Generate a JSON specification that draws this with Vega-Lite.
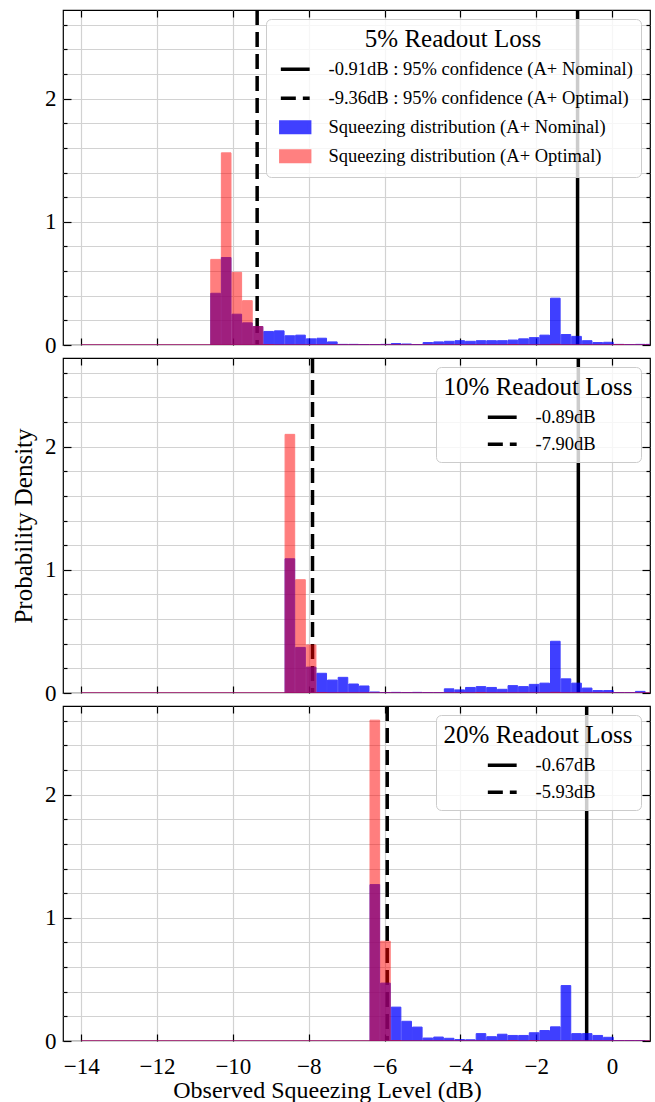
{
  "$schema": "https://vega.github.io/schema/vega-lite/v6.json",
  "background": "white",
  "padding": {"left": 10, "top": 8, "right": 5, "bottom": 3},
  "config": {
    "font": "Liberation Serif",
    "view": {"stroke": "black", "strokeWidth": 1.2},
    "concat": {"spacing": -8},
    "axis": {
      "domain": false,
      "labelFont": "Liberation Serif",
      "titleFont": "Liberation Serif",
      "labelFontSize": 23,
      "titleFontSize": 24,
      "titleFontWeight": "normal",
      "labelColor": "black",
      "titleColor": "black",
      "gridColor": "#d2d2d2",
      "gridWidth": 1.2,
      "tickColor": "black",
      "tickWidth": 1.2
    },
    "legend": {
      "titleFont": "Liberation Serif",
      "labelFont": "Liberation Serif",
      "titleFontSize": 25,
      "titleFontWeight": "normal",
      "titleColor": "black",
      "titleAnchor": "middle",
      "titleLimit": 400,
      "labelFontSize": 18.5,
      "labelColor": "black",
      "labelLimit": 500,
      "fillColor": "rgba(255,255,255,0.8)",
      "strokeColor": "#cccccc",
      "cornerRadius": 5,
      "padding": 8,
      "rowPadding": 8,
      "titlePadding": 8,
      "symbolSize": 196,
      "symbolOffset": 12,
      "labelOffset": 24,
      "orient": "top-right",
      "offset": 9
    }
  },
  "datasets": {
    "lines": [
      {"p": 1, "label": "-0.91dB : 95% confidence (A+ Nominal)", "x": -0.91, "style": "solid"},
      {"p": 1, "label": "-9.36dB : 95% confidence (A+ Optimal)", "x": -9.36, "style": "dashed"},
      {"p": 2, "label": "-0.89dB", "x": -0.89, "style": "solid"},
      {"p": 2, "label": "-7.90dB", "x": -7.90, "style": "dashed"},
      {"p": 3, "label": "-0.67dB", "x": -0.67, "style": "solid"},
      {"p": 3, "label": "-5.93dB", "x": -5.93, "style": "dashed"}
    ],
    "span": [{"lo": -14.0, "hi": 1.15}],
    "bars": [
      {"p": 1, "s": "nom", "x0": -10.61, "x1": -10.33, "d": 0.42},
      {"p": 1, "s": "nom", "x0": -10.33, "x1": -10.05, "d": 0.71},
      {"p": 1, "s": "nom", "x0": -10.05, "x1": -9.77, "d": 0.25},
      {"p": 1, "s": "nom", "x0": -9.77, "x1": -9.49, "d": 0.18},
      {"p": 1, "s": "nom", "x0": -9.49, "x1": -9.21, "d": 0.15},
      {"p": 1, "s": "nom", "x0": -9.21, "x1": -8.93, "d": 0.11},
      {"p": 1, "s": "nom", "x0": -8.93, "x1": -8.65, "d": 0.115},
      {"p": 1, "s": "nom", "x0": -8.65, "x1": -8.37, "d": 0.075},
      {"p": 1, "s": "nom", "x0": -8.37, "x1": -8.09, "d": 0.08},
      {"p": 1, "s": "nom", "x0": -8.09, "x1": -7.81, "d": 0.05},
      {"p": 1, "s": "nom", "x0": -7.81, "x1": -7.53, "d": 0.055},
      {"p": 1, "s": "nom", "x0": -7.53, "x1": -7.25, "d": 0.025},
      {"p": 1, "s": "nom", "x0": -7.25, "x1": -6.97, "d": 0.005},
      {"p": 1, "s": "nom", "x0": -6.97, "x1": -6.69, "d": 0.005},
      {"p": 1, "s": "nom", "x0": -6.69, "x1": -6.41, "d": 0.004},
      {"p": 1, "s": "nom", "x0": -6.41, "x1": -6.13, "d": 0.004},
      {"p": 1, "s": "nom", "x0": -6.13, "x1": -5.85, "d": 0.005},
      {"p": 1, "s": "nom", "x0": -5.85, "x1": -5.57, "d": 0.012},
      {"p": 1, "s": "nom", "x0": -5.57, "x1": -5.29, "d": 0.008},
      {"p": 1, "s": "nom", "x0": -5.29, "x1": -5.01, "d": 0.004},
      {"p": 1, "s": "nom", "x0": -5.01, "x1": -4.73, "d": 0.02},
      {"p": 1, "s": "nom", "x0": -4.73, "x1": -4.45, "d": 0.025},
      {"p": 1, "s": "nom", "x0": -4.45, "x1": -4.17, "d": 0.03},
      {"p": 1, "s": "nom", "x0": -4.17, "x1": -3.89, "d": 0.035},
      {"p": 1, "s": "nom", "x0": -3.89, "x1": -3.61, "d": 0.03},
      {"p": 1, "s": "nom", "x0": -3.61, "x1": -3.33, "d": 0.035},
      {"p": 1, "s": "nom", "x0": -3.33, "x1": -3.05, "d": 0.035},
      {"p": 1, "s": "nom", "x0": -3.05, "x1": -2.77, "d": 0.035},
      {"p": 1, "s": "nom", "x0": -2.77, "x1": -2.49, "d": 0.04},
      {"p": 1, "s": "nom", "x0": -2.49, "x1": -2.21, "d": 0.05},
      {"p": 1, "s": "nom", "x0": -2.21, "x1": -1.93, "d": 0.06},
      {"p": 1, "s": "nom", "x0": -1.93, "x1": -1.65, "d": 0.08},
      {"p": 1, "s": "nom", "x0": -1.65, "x1": -1.37, "d": 0.38},
      {"p": 1, "s": "nom", "x0": -1.37, "x1": -1.09, "d": 0.085},
      {"p": 1, "s": "nom", "x0": -1.09, "x1": -0.81, "d": 0.07},
      {"p": 1, "s": "nom", "x0": -0.81, "x1": -0.53, "d": 0.035},
      {"p": 1, "s": "nom", "x0": -0.53, "x1": -0.25, "d": 0.02},
      {"p": 1, "s": "nom", "x0": -0.25, "x1": 0.03, "d": 0.022},
      {"p": 1, "s": "nom", "x0": 0.03, "x1": 0.31, "d": 0.005},
      {"p": 1, "s": "nom", "x0": 0.31, "x1": 0.59, "d": 0.003},
      {"p": 1, "s": "nom", "x0": 0.59, "x1": 0.87, "d": 0.005},
      {"p": 1, "s": "nom", "x0": 0.87, "x1": 1.15, "d": 0.005},
      {"p": 1, "s": "opt", "x0": -10.61, "x1": -10.33, "d": 0.695},
      {"p": 1, "s": "opt", "x0": -10.33, "x1": -10.05, "d": 1.56},
      {"p": 1, "s": "opt", "x0": -10.05, "x1": -9.77, "d": 0.59},
      {"p": 1, "s": "opt", "x0": -9.77, "x1": -9.49, "d": 0.36},
      {"p": 1, "s": "opt", "x0": -9.49, "x1": -9.21, "d": 0.15},
      {"p": 1, "s": "opt", "x0": -9.21, "x1": -8.93, "d": 0.004},
      {"p": 1, "s": "opt", "x0": -2.77, "x1": -2.49, "d": 0.004},
      {"p": 1, "s": "opt", "x0": -1.65, "x1": -1.37, "d": 0.006},
      {"p": 1, "s": "opt", "x0": 0.03, "x1": 0.31, "d": 0.004},
      {"p": 2, "s": "nom", "x0": -8.65, "x1": -8.37, "d": 1.09},
      {"p": 2, "s": "nom", "x0": -8.37, "x1": -8.09, "d": 0.37},
      {"p": 2, "s": "nom", "x0": -8.09, "x1": -7.81, "d": 0.21},
      {"p": 2, "s": "nom", "x0": -7.81, "x1": -7.53, "d": 0.16},
      {"p": 2, "s": "nom", "x0": -7.53, "x1": -7.25, "d": 0.105},
      {"p": 2, "s": "nom", "x0": -7.25, "x1": -6.97, "d": 0.127},
      {"p": 2, "s": "nom", "x0": -6.97, "x1": -6.69, "d": 0.073},
      {"p": 2, "s": "nom", "x0": -6.69, "x1": -6.41, "d": 0.057},
      {"p": 2, "s": "nom", "x0": -6.41, "x1": -6.13, "d": 0.008},
      {"p": 2, "s": "nom", "x0": -6.13, "x1": -5.85, "d": 0.004},
      {"p": 2, "s": "nom", "x0": -5.85, "x1": -5.57, "d": 0.005},
      {"p": 2, "s": "nom", "x0": -5.57, "x1": -5.29, "d": 0.004},
      {"p": 2, "s": "nom", "x0": -5.29, "x1": -5.01, "d": 0.005},
      {"p": 2, "s": "nom", "x0": -5.01, "x1": -4.73, "d": 0.003},
      {"p": 2, "s": "nom", "x0": -4.73, "x1": -4.45, "d": 0.003},
      {"p": 2, "s": "nom", "x0": -4.45, "x1": -4.17, "d": 0.034},
      {"p": 2, "s": "nom", "x0": -4.17, "x1": -3.89, "d": 0.025},
      {"p": 2, "s": "nom", "x0": -3.89, "x1": -3.61, "d": 0.045},
      {"p": 2, "s": "nom", "x0": -3.61, "x1": -3.33, "d": 0.052},
      {"p": 2, "s": "nom", "x0": -3.33, "x1": -3.05, "d": 0.045},
      {"p": 2, "s": "nom", "x0": -3.05, "x1": -2.77, "d": 0.03},
      {"p": 2, "s": "nom", "x0": -2.77, "x1": -2.49, "d": 0.06},
      {"p": 2, "s": "nom", "x0": -2.49, "x1": -2.21, "d": 0.052},
      {"p": 2, "s": "nom", "x0": -2.21, "x1": -1.93, "d": 0.07},
      {"p": 2, "s": "nom", "x0": -1.93, "x1": -1.65, "d": 0.08},
      {"p": 2, "s": "nom", "x0": -1.65, "x1": -1.37, "d": 0.42},
      {"p": 2, "s": "nom", "x0": -1.37, "x1": -1.09, "d": 0.115},
      {"p": 2, "s": "nom", "x0": -1.09, "x1": -0.81, "d": 0.08},
      {"p": 2, "s": "nom", "x0": -0.81, "x1": -0.53, "d": 0.04},
      {"p": 2, "s": "nom", "x0": -0.53, "x1": -0.25, "d": 0.02},
      {"p": 2, "s": "nom", "x0": -0.25, "x1": 0.03, "d": 0.02},
      {"p": 2, "s": "nom", "x0": 0.03, "x1": 0.31, "d": 0.003},
      {"p": 2, "s": "nom", "x0": 0.31, "x1": 0.59, "d": 0.003},
      {"p": 2, "s": "nom", "x0": 0.59, "x1": 0.87, "d": 0.013},
      {"p": 2, "s": "opt", "x0": -8.65, "x1": -8.37, "d": 2.10},
      {"p": 2, "s": "opt", "x0": -8.37, "x1": -8.09, "d": 0.92},
      {"p": 2, "s": "opt", "x0": -8.09, "x1": -7.81, "d": 0.39},
      {"p": 2, "s": "opt", "x0": -7.81, "x1": -7.53, "d": 0.004},
      {"p": 2, "s": "opt", "x0": -3.61, "x1": -3.33, "d": 0.004},
      {"p": 2, "s": "opt", "x0": -1.65, "x1": -1.37, "d": 0.005},
      {"p": 3, "s": "nom", "x0": -6.41, "x1": -6.13, "d": 1.27},
      {"p": 3, "s": "nom", "x0": -6.13, "x1": -5.85, "d": 0.47},
      {"p": 3, "s": "nom", "x0": -5.85, "x1": -5.57, "d": 0.275},
      {"p": 3, "s": "nom", "x0": -5.57, "x1": -5.29, "d": 0.16},
      {"p": 3, "s": "nom", "x0": -5.29, "x1": -5.01, "d": 0.113},
      {"p": 3, "s": "nom", "x0": -5.01, "x1": -4.73, "d": 0.024},
      {"p": 3, "s": "nom", "x0": -4.73, "x1": -4.45, "d": 0.032},
      {"p": 3, "s": "nom", "x0": -4.45, "x1": -4.17, "d": 0.022},
      {"p": 3, "s": "nom", "x0": -4.17, "x1": -3.89, "d": 0.012},
      {"p": 3, "s": "nom", "x0": -3.89, "x1": -3.61, "d": 0.01},
      {"p": 3, "s": "nom", "x0": -3.61, "x1": -3.33, "d": 0.06},
      {"p": 3, "s": "nom", "x0": -3.33, "x1": -3.05, "d": 0.035},
      {"p": 3, "s": "nom", "x0": -3.05, "x1": -2.77, "d": 0.055},
      {"p": 3, "s": "nom", "x0": -2.77, "x1": -2.49, "d": 0.045},
      {"p": 3, "s": "nom", "x0": -2.49, "x1": -2.21, "d": 0.045},
      {"p": 3, "s": "nom", "x0": -2.21, "x1": -1.93, "d": 0.067},
      {"p": 3, "s": "nom", "x0": -1.93, "x1": -1.65, "d": 0.085},
      {"p": 3, "s": "nom", "x0": -1.65, "x1": -1.37, "d": 0.115},
      {"p": 3, "s": "nom", "x0": -1.37, "x1": -1.09, "d": 0.45},
      {"p": 3, "s": "nom", "x0": -1.09, "x1": -0.81, "d": 0.06},
      {"p": 3, "s": "nom", "x0": -0.81, "x1": -0.53, "d": 0.06},
      {"p": 3, "s": "nom", "x0": -0.53, "x1": -0.25, "d": 0.045},
      {"p": 3, "s": "nom", "x0": -0.25, "x1": 0.03, "d": 0.03},
      {"p": 3, "s": "nom", "x0": 0.03, "x1": 0.31, "d": 0.003},
      {"p": 3, "s": "nom", "x0": 0.31, "x1": 0.59, "d": 0.003},
      {"p": 3, "s": "nom", "x0": 0.59, "x1": 0.87, "d": 0.003},
      {"p": 3, "s": "opt", "x0": -6.41, "x1": -6.13, "d": 2.605},
      {"p": 3, "s": "opt", "x0": -6.13, "x1": -5.85, "d": 0.81},
      {"p": 3, "s": "opt", "x0": -5.85, "x1": -5.57, "d": 0.004},
      {"p": 3, "s": "opt", "x0": -2.77, "x1": -2.49, "d": 0.004},
      {"p": 3, "s": "opt", "x0": -2.21, "x1": -1.93, "d": 0.004}
    ]
  },
  "resolve": {"scale": {"color": "independent"}, "legend": {"color": "independent"}},
  "vconcat": [
    {
      "width": 587, "height": 335,
      "resolve": {"axis": {"x": "independent", "y": "independent"}},
      "layer": [
        {
          "data": {"name": "lines"},
          "transform": [{"filter": "datum.p == 1"}],
          "mark": {"type": "rule", "strokeWidth": 3.5, "clip": true},
          "encoding": {
            "x": {"field": "x", "type": "quantitative", "scale": {"domain": [-14.48, 1.0], "nice": false, "zero": false}, "axis": null},
            "color": {
              "field": "label", "type": "nominal",
              "scale": {"domain": ["-0.91dB : 95% confidence (A+ Nominal)", "-9.36dB : 95% confidence (A+ Optimal)", "Squeezing distribution (A+ Nominal)", "Squeezing distribution (A+ Optimal)"], "range": ["black", "black", "#4040ff", "#ff8080"]},
              "legend": {
                "title": "5% Readout Loss",
                "rowPadding": 3,
                "encode": {"symbols": {"update": {
                  "shape": {"signal": "indexof(datum.value, 'Squeezing') === 0 ? 'M-2.06,-0.76L2.06,-0.76L2.06,0.76L-2.06,0.76Z' : 'M0,-0.76M0,0.76M-2.06,0L2.06,0'"},
                  "fill": {"signal": "datum.value === 'Squeezing distribution (A+ Nominal)' ? '#4040ff' : (datum.value === 'Squeezing distribution (A+ Optimal)' ? '#ff8080' : 'transparent')"},
                  "stroke": {"signal": "indexof(datum.value, 'Squeezing') === 0 ? 'transparent' : 'black'"},
                  "strokeDash": {"signal": "indexof(datum.value, 'Optimal') > 0 && indexof(datum.value, 'Squeezing') < 0 ? [15, 7] : [1, 0]"},
                  "strokeWidth": {"value": 3.5},
                  "opacity": {"value": 1}
                }}}
              }
            },
            "strokeDash": {"condition": {"test": "datum.style === 'dashed'", "value": [15, 7]}, "value": [1, 0]}
          }
        },
        {
          "data": {"name": "bars"},
          "transform": [{"filter": "datum.p == 1 && datum.s == 'nom'"}],
          "mark": {"type": "bar", "opacity": 0.75, "color": "#0000ff", "stroke": "blue", "strokeWidth": 1, "clip": true},
          "encoding": {
            "x": {"field": "x0", "type": "quantitative", "bin": {"binned": true, "step": 0.28}, "scale": {"domain": [-14.48, 1.0], "nice": false, "zero": false},
              "axis": {"orient": "bottom", "values": [-14, -12, -10, -8, -6, -4, -2, 0], "labels": false, "title": null, "grid": true, "tickSize": -7}},
            "x2": {"field": "x1"},
            "y": {"field": "d", "type": "quantitative", "scale": {"domain": [0, 2.72], "nice": false},
              "axis": {"orient": "left", "values": [0, 0.2, 0.4, 0.6, 0.8, 1, 1.2, 1.4, 1.6, 1.8, 2, 2.2, 2.4, 2.6], "title": null, "grid": true, "labelPadding": 15,
                "labelExpr": "datum.value % 1 === 0 ? format(datum.value, 'd') : ''",
                "tickSize": {"condition": {"test": "datum.value % 1 === 0", "value": -8}, "value": -4}}}
          }
        },
        {
          "data": {"name": "bars"},
          "transform": [{"filter": "datum.p == 1 && datum.s == 'opt'"}],
          "mark": {"type": "bar", "opacity": 0.5, "color": "#ff0000", "stroke": "red", "strokeWidth": 1, "clip": true},
          "encoding": {
            "x": {"field": "x0", "type": "quantitative", "bin": {"binned": true, "step": 0.28}, "scale": {"domain": [-14.48, 1.0], "nice": false, "zero": false},
              "axis": {"orient": "top", "values": [-14, -12, -10, -8, -6, -4, -2, 0], "labels": false, "title": null, "grid": false, "tickSize": -7}},
            "x2": {"field": "x1"},
            "y": {"field": "d", "type": "quantitative", "scale": {"domain": [0, 2.72], "nice": false},
              "axis": {"orient": "right", "values": [0, 0.2, 0.4, 0.6, 0.8, 1, 1.2, 1.4, 1.6, 1.8, 2, 2.2, 2.4, 2.6], "title": null, "grid": false, "labels": false,
                "tickSize": {"condition": {"test": "datum.value % 1 === 0", "value": -8}, "value": -4}}}
          }
        },
        {
          "data": {"name": "span"},
          "mark": {"type": "rule", "color": "#a0106a", "strokeWidth": 1.3, "clip": true},
          "encoding": {
            "x": {"field": "lo", "type": "quantitative", "axis": null},
            "x2": {"field": "hi"},
            "y": {"datum": 0, "type": "quantitative", "axis": null}
          }
        }
      ]
    },
    {
      "width": 587, "height": 335,
      "resolve": {"axis": {"x": "independent", "y": "independent"}},
      "layer": [
        {
          "data": {"name": "lines"},
          "transform": [{"filter": "datum.p == 2"}],
          "mark": {"type": "rule", "strokeWidth": 3.5, "clip": true},
          "encoding": {
            "x": {"field": "x", "type": "quantitative", "scale": {"domain": [-14.48, 1.0], "nice": false, "zero": false}, "axis": null},
            "color": {
              "field": "label", "type": "nominal",
              "scale": {"domain": ["-0.89dB", "-7.90dB"], "range": ["black", "black"]},
              "legend": {
                "title": "10% Readout Loss",
                "encode": {"symbols": {"update": {
                  "shape": {"value": "M-2.06,0L2.06,0"},
                  "fill": {"value": "transparent"},
                  "stroke": {"value": "black"},
                  "strokeDash": {"signal": "datum.value === '-7.90dB' ? [15, 7] : [1, 0]"},
                  "strokeWidth": {"value": 3.5},
                  "opacity": {"value": 1}
                }}}
              }
            },
            "strokeDash": {"condition": {"test": "datum.style === 'dashed'", "value": [15, 7]}, "value": [1, 0]}
          }
        },
        {
          "data": {"name": "bars"},
          "transform": [{"filter": "datum.p == 2 && datum.s == 'nom'"}],
          "mark": {"type": "bar", "opacity": 0.75, "color": "#0000ff", "stroke": "blue", "strokeWidth": 1, "clip": true},
          "encoding": {
            "x": {"field": "x0", "type": "quantitative", "bin": {"binned": true, "step": 0.28}, "scale": {"domain": [-14.48, 1.0], "nice": false, "zero": false},
              "axis": {"orient": "bottom", "values": [-14, -12, -10, -8, -6, -4, -2, 0], "labels": false, "title": null, "grid": true, "tickSize": -7}},
            "x2": {"field": "x1"},
            "y": {"field": "d", "type": "quantitative", "scale": {"domain": [0, 2.72], "nice": false},
              "axis": {"orient": "left", "values": [0, 0.2, 0.4, 0.6, 0.8, 1, 1.2, 1.4, 1.6, 1.8, 2, 2.2, 2.4, 2.6], "title": "Probability Density", "titleFontSize": 25, "titlePadding": 8, "grid": true, "labelPadding": 15,
                "labelExpr": "datum.value % 1 === 0 ? format(datum.value, 'd') : ''",
                "tickSize": {"condition": {"test": "datum.value % 1 === 0", "value": -8}, "value": -4}}}
          }
        },
        {
          "data": {"name": "bars"},
          "transform": [{"filter": "datum.p == 2 && datum.s == 'opt'"}],
          "mark": {"type": "bar", "opacity": 0.5, "color": "#ff0000", "stroke": "red", "strokeWidth": 1, "clip": true},
          "encoding": {
            "x": {"field": "x0", "type": "quantitative", "bin": {"binned": true, "step": 0.28}, "scale": {"domain": [-14.48, 1.0], "nice": false, "zero": false},
              "axis": {"orient": "top", "values": [-14, -12, -10, -8, -6, -4, -2, 0], "labels": false, "title": null, "grid": false, "tickSize": -7}},
            "x2": {"field": "x1"},
            "y": {"field": "d", "type": "quantitative", "scale": {"domain": [0, 2.72], "nice": false},
              "axis": {"orient": "right", "values": [0, 0.2, 0.4, 0.6, 0.8, 1, 1.2, 1.4, 1.6, 1.8, 2, 2.2, 2.4, 2.6], "title": null, "grid": false, "labels": false,
                "tickSize": {"condition": {"test": "datum.value % 1 === 0", "value": -8}, "value": -4}}}
          }
        },
        {
          "data": {"name": "span"},
          "mark": {"type": "rule", "color": "#a0106a", "strokeWidth": 1.3, "clip": true},
          "encoding": {
            "x": {"field": "lo", "type": "quantitative", "axis": null},
            "x2": {"field": "hi"},
            "y": {"datum": 0, "type": "quantitative", "axis": null}
          }
        }
      ]
    },
    {
      "width": 587, "height": 335,
      "resolve": {"axis": {"x": "independent", "y": "independent"}},
      "layer": [
        {
          "data": {"name": "lines"},
          "transform": [{"filter": "datum.p == 3"}],
          "mark": {"type": "rule", "strokeWidth": 3.5, "clip": true},
          "encoding": {
            "x": {"field": "x", "type": "quantitative", "scale": {"domain": [-14.48, 1.0], "nice": false, "zero": false}, "axis": null},
            "color": {
              "field": "label", "type": "nominal",
              "scale": {"domain": ["-0.67dB", "-5.93dB"], "range": ["black", "black"]},
              "legend": {
                "title": "20% Readout Loss",
                "encode": {"symbols": {"update": {
                  "shape": {"value": "M-2.06,0L2.06,0"},
                  "fill": {"value": "transparent"},
                  "stroke": {"value": "black"},
                  "strokeDash": {"signal": "datum.value === '-5.93dB' ? [15, 7] : [1, 0]"},
                  "strokeWidth": {"value": 3.5},
                  "opacity": {"value": 1}
                }}}
              }
            },
            "strokeDash": {"condition": {"test": "datum.style === 'dashed'", "value": [15, 7]}, "value": [1, 0]}
          }
        },
        {
          "data": {"name": "bars"},
          "transform": [{"filter": "datum.p == 3 && datum.s == 'nom'"}],
          "mark": {"type": "bar", "opacity": 0.75, "color": "#0000ff", "stroke": "blue", "strokeWidth": 1, "clip": true},
          "encoding": {
            "x": {"field": "x0", "type": "quantitative", "bin": {"binned": true, "step": 0.28}, "scale": {"domain": [-14.48, 1.0], "nice": false, "zero": false},
              "axis": {"orient": "bottom", "values": [-14, -12, -10, -8, -6, -4, -2, 0], "title": "Observed Squeezing Level (dB)", "titleX": 264, "titlePadding": 0, "labelPadding": 21, "grid": true, "tickSize": -7, "format": "d"}},
            "x2": {"field": "x1"},
            "y": {"field": "d", "type": "quantitative", "scale": {"domain": [0, 2.72], "nice": false},
              "axis": {"orient": "left", "values": [0, 0.2, 0.4, 0.6, 0.8, 1, 1.2, 1.4, 1.6, 1.8, 2, 2.2, 2.4, 2.6], "title": null, "grid": true, "labelPadding": 15,
                "labelExpr": "datum.value % 1 === 0 ? format(datum.value, 'd') : ''",
                "tickSize": {"condition": {"test": "datum.value % 1 === 0", "value": -8}, "value": -4}}}
          }
        },
        {
          "data": {"name": "bars"},
          "transform": [{"filter": "datum.p == 3 && datum.s == 'opt'"}],
          "mark": {"type": "bar", "opacity": 0.5, "color": "#ff0000", "stroke": "red", "strokeWidth": 1, "clip": true},
          "encoding": {
            "x": {"field": "x0", "type": "quantitative", "bin": {"binned": true, "step": 0.28}, "scale": {"domain": [-14.48, 1.0], "nice": false, "zero": false},
              "axis": {"orient": "top", "values": [-14, -12, -10, -8, -6, -4, -2, 0], "labels": false, "title": null, "grid": false, "tickSize": -7}},
            "x2": {"field": "x1"},
            "y": {"field": "d", "type": "quantitative", "scale": {"domain": [0, 2.72], "nice": false},
              "axis": {"orient": "right", "values": [0, 0.2, 0.4, 0.6, 0.8, 1, 1.2, 1.4, 1.6, 1.8, 2, 2.2, 2.4, 2.6], "title": null, "grid": false, "labels": false,
                "tickSize": {"condition": {"test": "datum.value % 1 === 0", "value": -8}, "value": -4}}}
          }
        },
        {
          "data": {"name": "span"},
          "mark": {"type": "rule", "color": "#a0106a", "strokeWidth": 1.3, "clip": true},
          "encoding": {
            "x": {"field": "lo", "type": "quantitative", "axis": null},
            "x2": {"field": "hi"},
            "y": {"datum": 0, "type": "quantitative", "axis": null}
          }
        }
      ]
    }
  ]
}
